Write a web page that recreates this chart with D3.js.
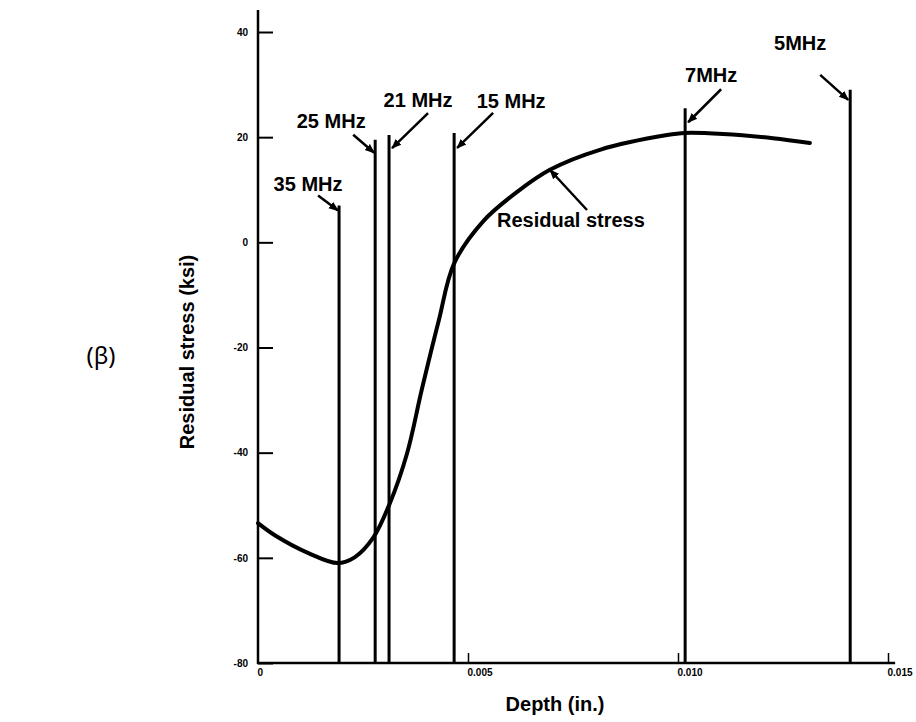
<!DOCTYPE html>
<html>
<head>
<meta charset="utf-8">
<script src="https://cdn.jsdelivr.net/npm/d3@7"></script>
<style>
  html, body { margin: 0; padding: 0; background: #fff; }
  svg { display: block; }
</style>
</head>
<body>
<svg id="chart" width="916" height="722"></svg>
<script>
// ---------- data ----------
const curveDepth  = [0, 0.0004, 0.0012, 0.0019, 0.0023, 0.00274, 0.00314, 0.00355, 0.0039, 0.0043, 0.00467, 0.00536, 0.00617, 0.00695, 0.00814, 0.00974, 0.01017, 0.01107, 0.01226, 0.01314];
const curveStress = [-53.4, -55.7, -59.1, -61.0, -59.9, -56.2, -49.6, -40.1, -28.0, -15.0, -4.0, 4.0, 9.6, 13.8, 17.6, 20.4, 20.8, 20.6, 19.8, 18.9];

const freqLabels = ["35 MHz", "25 MHz", "21 MHz", "15 MHz", "7MHz", "5MHz"];
const freqDepth  = [0.00193, 0.00279, 0.00312, 0.00467, 0.01017, 0.0141];
const freqTop    = [7.0, 19.5, 20.4, 20.8, 25.5, 29.0];

const yTickValues = [40, 20, 0, -20, -40, -60, -80];
const yTickLabels = ["40", "20", "0", "-20", "-40", "-60", "-80"];
const xTickValues = [0, 0.005, 0.010, 0.015];
const xTickLabels = ["0", "0.005", "0.010", "0.015"];

// ---------- layout ----------
const FONT = "'Liberation Sans', Arial, Helvetica, sans-serif";
const svg = d3.select("#chart");
const x = d3.scaleLinear().domain([0, 0.015]).range([258, 888]);
const y = d3.scaleLinear().domain([-80, 40]).range([663, 32]);

// annotation offsets relative to top of each line: [label dx, label dy, arrow start dx, dy, arrow end dx, dy]
const annot = [
  [-31, -15, -21, -10, -1, 5],
  [-44, -12, -22, -5, -1, 13],
  [ 29, -28,  39, -22, 3, 13],
  [ 57, -25,  39, -20, 3, 15],
  [ 26, -26,  36, -19, 3, 14],
  [-50, -40, -30, -15, -2, 10]
];

const defs = svg.append("defs");
defs.append("marker")
  .attr("id", "arrow").attr("viewBox", "0 0 10 10")
  .attr("refX", 9).attr("refY", 5)
  .attr("markerWidth", 4).attr("markerHeight", 4)
  .attr("markerUnits", "strokeWidth")
  .attr("orient", "auto")
  .append("path").attr("d", "M0,1 L10,5 L0,9 Z").attr("fill", "#000");

// ---------- axes ----------
const yAxis = d3.axisLeft(y)
  .tickValues(yTickValues)
  .tickFormat((d, i) => yTickLabels[i])
  .tickSizeInner(-15).tickSizeOuter(0).tickPadding(10);
const gy = svg.append("g").attr("transform", `translate(${x(0)},0)`).call(yAxis);
gy.select(".domain").remove();
gy.selectAll(".tick line").attr("stroke", "#000").attr("stroke-width", 2);
gy.selectAll(".tick text")
  .attr("font-family", FONT).attr("font-size", 10).attr("font-weight", "bold")
  .attr("fill", "#000");

const xAxis = d3.axisBottom(x)
  .tickValues(xTickValues)
  .tickFormat((d, i) => xTickLabels[i])
  .tickSizeInner(-10).tickSizeOuter(0).tickPadding(6);
const gx = svg.append("g").attr("transform", `translate(0,${y(-80)})`).call(xAxis);
gx.select(".domain").remove();
gx.selectAll(".tick line").attr("stroke", "#000").attr("stroke-width", 1.5)
  .attr("display", d => d === 0 ? "none" : null);
gx.selectAll(".tick text")
  .attr("font-family", FONT).attr("font-size", 10).attr("font-weight", "bold")
  .attr("text-anchor", "start").attr("dx", -1)
  .attr("fill", "#000");

// axis lines
svg.append("line")
  .attr("x1", x(0)).attr("x2", x(0))
  .attr("y1", y(-80) + 1).attr("y2", y(44.2))
  .attr("stroke", "#000").attr("stroke-width", 2.5);
svg.append("line")
  .attr("x1", x(0) - 1).attr("x2", x(0.01517))
  .attr("y1", y(-80)).attr("y2", y(-80))
  .attr("stroke", "#000").attr("stroke-width", 2.5);

// ---------- frequency lines ----------
freqDepth.forEach((dv, i) => {
  const lx = x(dv), ty = y(freqTop[i]);
  svg.append("line")
    .attr("x1", lx).attr("x2", lx)
    .attr("y1", y(-80)).attr("y2", ty)
    .attr("stroke", "#000").attr("stroke-width", 3);
  const a = annot[i];
  svg.append("text")
    .attr("x", lx + a[0]).attr("y", ty + a[1])
    .attr("text-anchor", "middle")
    .attr("font-family", FONT).attr("font-size", 20).attr("font-weight", "bold")
    .attr("fill", "#000")
    .text(freqLabels[i]);
  svg.append("line")
    .attr("x1", lx + a[2]).attr("y1", ty + a[3])
    .attr("x2", lx + a[4]).attr("y2", ty + a[5])
    .attr("stroke", "#000").attr("stroke-width", 2.5)
    .attr("marker-end", "url(#arrow)");
});

// ---------- residual stress curve ----------
const pts = curveDepth.map((d, i) => [d, curveStress[i]]);
svg.append("path")
  .datum(pts)
  .attr("d", d3.line().x(d => x(d[0])).y(d => y(d[1])).curve(d3.curveCatmullRom.alpha(0.5)))
  .attr("fill", "none").attr("stroke", "#000").attr("stroke-width", 4)
  .attr("stroke-linecap", "round");

// curve annotation
svg.append("line")
  .attr("x1", 587).attr("y1", 210).attr("x2", 550).attr("y2", 170)
  .attr("stroke", "#000").attr("stroke-width", 2.5)
  .attr("marker-end", "url(#arrow)");
svg.append("text")
  .attr("x", 497).attr("y", 227)
  .attr("font-family", FONT).attr("font-size", 20).attr("font-weight", "bold")
  .attr("fill", "#000")
  .text("Residual stress");

// ---------- axis titles ----------
svg.append("text")
  .attr("transform", "translate(194,352) rotate(-90)")
  .attr("text-anchor", "middle")
  .attr("font-family", FONT).attr("font-size", 20).attr("font-weight", "bold")
  .attr("fill", "#000")
  .text("Residual stress (ksi)");
svg.append("text")
  .attr("x", 555).attr("y", 711)
  .attr("text-anchor", "middle")
  .attr("font-family", FONT).attr("font-size", 20).attr("font-weight", "bold")
  .attr("fill", "#000")
  .text("Depth (in.)");

svg.append("text")
  .attr("x", 101).attr("y", 364)
  .attr("text-anchor", "middle")
  .attr("font-family", "'Noto Sans', 'DejaVu Sans', sans-serif").attr("font-size", 24)
  .attr("fill", "#000")
  .text("(β)");
</script>
</body>
</html>
